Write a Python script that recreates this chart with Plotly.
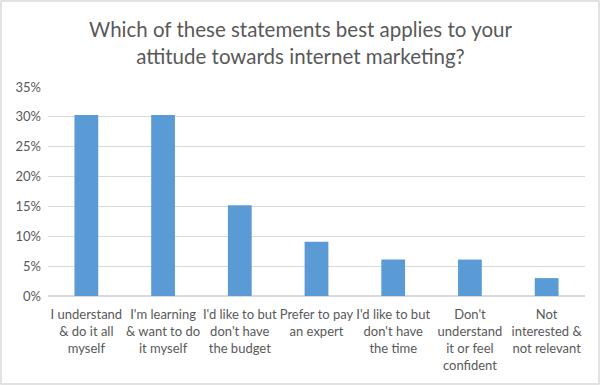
import plotly.graph_objects as go

categories = [
    "I understand<br>& do it all<br>myself",
    "I'm learning<br>& want to do<br>it myself",
    "I'd like to but<br>don't have<br>the budget",
    "Prefer to pay<br>an expert",
    "I'd like to but<br>don't have<br>the time",
    "Don't<br>understand<br>it or feel<br>confident",
    "Not<br>interested &<br>not relevant",
]
values = [0.303, 0.303, 0.152, 0.091, 0.061, 0.061, 0.030]
tick_vals = [0, 0.05, 0.10, 0.15, 0.20, 0.25, 0.30, 0.35]
tick_text = ["0%", "5%", "10%", "15%", "20%", "25%", "30%", "35%"]
title_text = "Which of these statements best applies to your<br>attitude towards internet marketing?"

W, H = 600, 385
ml, mr, mt, mb = 48, 15, 87, 89
pw, ph = W - ml - mr, H - mt - mb

fig = go.Figure(go.Bar(x=categories, y=values, marker_color="#5b9bd5",
                       marker_line_width=0, hoverinfo="skip"))

font_family = "Lato, Open Sans, sans-serif"
fig.update_layout(
    width=W, height=H,
    margin=dict(l=ml, r=mr, t=mt, b=mb, autoexpand=False),
    paper_bgcolor="white", plot_bgcolor="white",
    bargap=0.69,
    showlegend=False,
    font=dict(family=font_family, color="#595959", size=13),
)
fig.add_annotation(text=title_text, xref="paper", yref="paper",
                   x=(W / 2 - ml) / pw, y=1 + (mt - 42) / ph,
                   xanchor="center", yanchor="middle", showarrow=False,
                   align="center",
                   font=dict(size=20.5, color="#595959", family=font_family))
fig.update_yaxes(range=[0, 0.35], tickvals=tick_vals, ticktext=tick_text,
                 showgrid=True, gridcolor="#d9d9d9", gridwidth=1,
                 zeroline=True, zerolinecolor="#d9d9d9", showline=False,
                 ticks="", ticklabelstandoff=6, tickfont=dict(size=13))
fig.update_xaxes(showline=False, ticks="", tickangle=0, ticklabelstandoff=9,
                 tickfont=dict(size=13), fixedrange=True)

# outer border
fig.add_shape(type="rect", xref="paper", yref="paper",
              x0=(1 - ml) / pw, x1=(W - 1 - ml) / pw,
              y0=-(mb - 1) / ph, y1=1 + (mt - 1) / ph,
              line=dict(color="#d9d9d9", width=1.5), fillcolor="rgba(0,0,0,0)",
              layer="below")

fig.write_html("out.html", config={"displayModeBar": False},
               post_script="document.body.style.margin='0';document.body.style.overflow='hidden';")
